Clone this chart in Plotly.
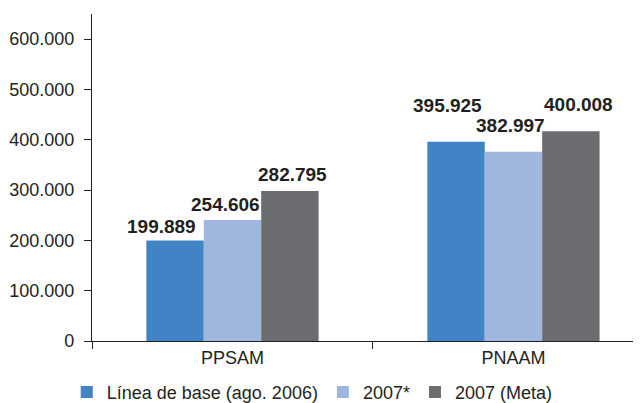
import plotly.graph_objects as go

categories = ["PPSAM", "PNAAM"]
series_names = ["Línea de base (ago. 2006)", "2007*", "2007 (Meta)"]
# bar heights as drawn in the picture
bar_heights = [
    [200000, 396000],
    [240500, 376000],
    [298000, 417000],
]
# values printed on the labels
label_values = [
    [199889, 395925],
    [254606, 382997],
    [282795, 400008],
]
y_tick_values = [0, 100000, 200000, 300000, 400000, 500000, 600000]
y_tick_labels = ["0", "100.000", "200.000", "300.000", "400.000", "500.000", "600.000"]

colors = ["#4184c6", "#9fb7df", "#6c6d71"]
FONT = "Liberation Sans Narrow, Arial Narrow, Liberation Sans, Arial, sans-serif"
TXT = "#231f20"
BARGAP = 0.387

# label pixel nudges (styling)
label_xshift = [[-14, -9], [-7, -3], [3, 8]]
label_yshift = [[1, 24], [3, 14], [4, 14]]

fig = go.Figure()
for k, name in enumerate(series_names):
    fig.add_trace(go.Bar(
        x=categories, y=bar_heights[k], name=name,
        marker=dict(color=colors[k], line=dict(width=0)),
        hoverinfo="skip",
    ))

bw = (1 - BARGAP) / len(series_names)
annotations = []
for k in range(len(series_names)):
    for i in range(len(categories)):
        v = label_values[k][i]
        annotations.append(dict(
            x=i + (k - 1) * bw, y=bar_heights[k][i], xref="x", yref="y",
            text=f"{v:,}".replace(",", "."), showarrow=False,
            yanchor="bottom", xanchor="center",
            xshift=label_xshift[k][i], yshift=label_yshift[k][i],
            font=dict(family=FONT, size=19, color=TXT, weight="bold"),
        ))

# page body has an 8px margin: figure is sized to the visible area
fig.update_layout(
    width=633, height=395,
    barmode="group", bargap=BARGAP, bargroupgap=0,
    plot_bgcolor="white", paper_bgcolor="white",
    margin=dict(l=84, r=0, t=6, b=62, autoexpand=False),
    font=dict(family=FONT, size=18, color=TXT),
    annotations=annotations,
    showlegend=True,
    legend=dict(
        orientation="h", x=-0.046, xanchor="left", y=-0.1, yanchor="top",
        font=dict(family=FONT, size=18, color=TXT),
        itemwidth=30, tracegroupgap=0,
    ),
    xaxis=dict(
        type="category", range=[-0.5, 1.454], automargin=False,
        showline=True, linecolor="#231f20", linewidth=1.3,
        ticks="outside", tickson="boundaries", ticklen=7, tickcolor="#231f20",
        tickfont=dict(family=FONT, size=18, color=TXT),
        showgrid=False, zeroline=False,
    ),
    yaxis=dict(
        range=[0, 650000], automargin=False,
        tickvals=y_tick_values, ticktext=y_tick_labels,
        showline=True, linecolor="#231f20", linewidth=1.3,
        ticks="outside", ticklen=7, tickcolor="#231f20",
        tickfont=dict(family=FONT, size=18, color=TXT),
        ticklabelstandoff=6,
        showgrid=False, zeroline=False,
    ),
)

fig.write_html("out.html")
